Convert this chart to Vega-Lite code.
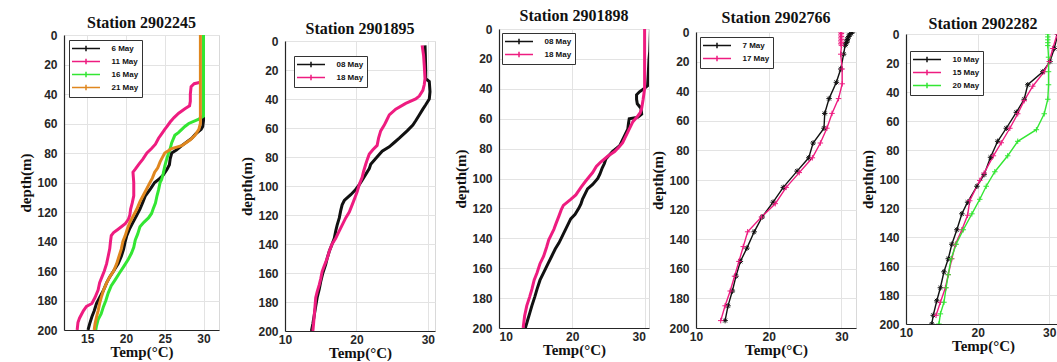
{
"$schema":"https://vega.github.io/schema/vega-lite/v6.json",
"background":"white",
"padding":{"left":18,"top":4,"right":0,"bottom":0},
"datasets":{
"p1":[
{"date":"6 May","depth":0,"temp":30.0},{"date":"6 May","depth":20,"temp":30.0},{"date":"6 May","depth":40,"temp":30.0},{"date":"6 May","depth":58,"temp":30.0},{"date":"6 May","depth":62,"temp":29.9},{"date":"6 May","depth":64,"temp":29.7},{"date":"6 May","depth":67,"temp":29.0},{"date":"6 May","depth":70,"temp":28.5},{"date":"6 May","depth":75,"temp":27.2},{"date":"6 May","depth":78,"temp":26.5},{"date":"6 May","depth":80,"temp":25.9},{"date":"6 May","depth":84,"temp":25.7},{"date":"6 May","depth":88,"temp":25.6},{"date":"6 May","depth":91,"temp":25.3},{"date":"6 May","depth":95,"temp":24.8},{"date":"6 May","depth":98,"temp":24.2},{"date":"6 May","depth":100,"temp":23.7},{"date":"6 May","depth":104,"temp":23.2},{"date":"6 May","depth":109,"temp":22.5},{"date":"6 May","depth":113,"temp":22.2},{"date":"6 May","depth":118,"temp":21.8},{"date":"6 May","depth":122,"temp":21.4},{"date":"6 May","depth":127,"temp":20.9},{"date":"6 May","depth":131,"temp":20.5},{"date":"6 May","depth":136,"temp":20.1},{"date":"6 May","depth":140,"temp":19.9},{"date":"6 May","depth":145,"temp":19.7},{"date":"6 May","depth":150,"temp":19.4},{"date":"6 May","depth":155,"temp":19.0},{"date":"6 May","depth":160,"temp":18.4},{"date":"6 May","depth":164,"temp":17.9},{"date":"6 May","depth":168,"temp":17.5},{"date":"6 May","depth":173,"temp":17.1},{"date":"6 May","depth":178,"temp":16.6},{"date":"6 May","depth":182,"temp":16.2},{"date":"6 May","depth":187,"temp":15.9},{"date":"6 May","depth":191,"temp":15.6},{"date":"6 May","depth":196,"temp":15.3},{"date":"6 May","depth":200,"temp":15.1},
{"date":"11 May","depth":32,"temp":29.6},{"date":"11 May","depth":33,"temp":28.8},{"date":"11 May","depth":35,"temp":28.4},{"date":"11 May","depth":40,"temp":28.3},{"date":"11 May","depth":45,"temp":28.3},{"date":"11 May","depth":48,"temp":28.2},{"date":"11 May","depth":50,"temp":27.6},{"date":"11 May","depth":53,"temp":26.8},{"date":"11 May","depth":56,"temp":26.2},{"date":"11 May","depth":59,"temp":25.7},{"date":"11 May","depth":62,"temp":25.3},{"date":"11 May","depth":64,"temp":25.0},{"date":"11 May","depth":67,"temp":24.6},{"date":"11 May","depth":70,"temp":24.2},{"date":"11 May","depth":74,"temp":23.8},{"date":"11 May","depth":77,"temp":23.3},{"date":"11 May","depth":80,"temp":22.7},{"date":"11 May","depth":84,"temp":22.2},{"date":"11 May","depth":88,"temp":21.6},{"date":"11 May","depth":91,"temp":21.2},{"date":"11 May","depth":93,"temp":20.9},{"date":"11 May","depth":100,"temp":21.0},{"date":"11 May","depth":109,"temp":21.0},{"date":"11 May","depth":114,"temp":20.8},{"date":"11 May","depth":118,"temp":20.6},{"date":"11 May","depth":122,"temp":20.5},{"date":"11 May","depth":125,"temp":20.3},{"date":"11 May","depth":128,"temp":19.9},{"date":"11 May","depth":130,"temp":19.4},{"date":"11 May","depth":132,"temp":18.9},{"date":"11 May","depth":134,"temp":18.4},{"date":"11 May","depth":136,"temp":18.1},{"date":"11 May","depth":140,"temp":18.0},{"date":"11 May","depth":145,"temp":17.9},{"date":"11 May","depth":150,"temp":17.7},{"date":"11 May","depth":155,"temp":17.5},{"date":"11 May","depth":160,"temp":17.2},{"date":"11 May","depth":164,"temp":16.9},{"date":"11 May","depth":168,"temp":16.6},{"date":"11 May","depth":173,"temp":16.4},{"date":"11 May","depth":178,"temp":16.0},{"date":"11 May","depth":182,"temp":15.6},{"date":"11 May","depth":184,"temp":14.9},{"date":"11 May","depth":187,"temp":14.5},{"date":"11 May","depth":189,"temp":14.3},{"date":"11 May","depth":192,"temp":14.0},{"date":"11 May","depth":195,"temp":13.8},{"date":"11 May","depth":200,"temp":13.7},
{"date":"16 May","depth":0,"temp":30.0},{"date":"16 May","depth":55,"temp":30.0},{"date":"16 May","depth":57,"temp":29.4},{"date":"16 May","depth":60,"temp":28.1},{"date":"16 May","depth":62,"temp":27.6},{"date":"16 May","depth":64,"temp":27.2},{"date":"16 May","depth":66,"temp":26.8},{"date":"16 May","depth":68,"temp":26.3},{"date":"16 May","depth":73,"temp":25.9},{"date":"16 May","depth":77,"temp":25.7},{"date":"16 May","depth":80,"temp":25.5},{"date":"16 May","depth":85,"temp":25.2},{"date":"16 May","depth":89,"temp":25.0},{"date":"16 May","depth":94,"temp":24.8},{"date":"16 May","depth":98,"temp":24.6},{"date":"16 May","depth":100,"temp":24.4},{"date":"16 May","depth":105,"temp":24.2},{"date":"16 May","depth":109,"temp":24.0},{"date":"16 May","depth":114,"temp":23.8},{"date":"16 May","depth":118,"temp":23.5},{"date":"16 May","depth":121,"temp":23.3},{"date":"16 May","depth":124,"temp":22.9},{"date":"16 May","depth":127,"temp":22.3},{"date":"16 May","depth":130,"temp":21.8},{"date":"16 May","depth":135,"temp":21.5},{"date":"16 May","depth":139,"temp":21.2},{"date":"16 May","depth":144,"temp":21.0},{"date":"16 May","depth":148,"temp":20.7},{"date":"16 May","depth":152,"temp":20.3},{"date":"16 May","depth":157,"temp":19.7},{"date":"16 May","depth":161,"temp":19.2},{"date":"16 May","depth":166,"temp":18.6},{"date":"16 May","depth":170,"temp":18.1},{"date":"16 May","depth":175,"temp":17.7},{"date":"16 May","depth":180,"temp":17.4},{"date":"16 May","depth":184,"temp":17.1},{"date":"16 May","depth":189,"temp":16.8},{"date":"16 May","depth":193,"temp":16.4},{"date":"16 May","depth":197,"temp":16.2},{"date":"16 May","depth":200,"temp":16.1},
{"date":"21 May","depth":0,"temp":29.6},{"date":"21 May","depth":60,"temp":29.6},{"date":"21 May","depth":64,"temp":29.4},{"date":"21 May","depth":68,"temp":28.9},{"date":"21 May","depth":71,"temp":28.3},{"date":"21 May","depth":75,"temp":27.2},{"date":"21 May","depth":77,"temp":25.9},{"date":"21 May","depth":80,"temp":25.0},{"date":"21 May","depth":83,"temp":24.7},{"date":"21 May","depth":86,"temp":24.4},{"date":"21 May","depth":90,"temp":24.1},{"date":"21 May","depth":93,"temp":23.7},{"date":"21 May","depth":97,"temp":23.4},{"date":"21 May","depth":100,"temp":23.1},{"date":"21 May","depth":104,"temp":22.7},{"date":"21 May","depth":109,"temp":22.2},{"date":"21 May","depth":113,"temp":21.8},{"date":"21 May","depth":118,"temp":21.4},{"date":"21 May","depth":122,"temp":21.0},{"date":"21 May","depth":127,"temp":20.5},{"date":"21 May","depth":131,"temp":20.2},{"date":"21 May","depth":136,"temp":19.9},{"date":"21 May","depth":140,"temp":19.6},{"date":"21 May","depth":145,"temp":19.4},{"date":"21 May","depth":150,"temp":19.1},{"date":"21 May","depth":155,"temp":18.8},{"date":"21 May","depth":160,"temp":18.4},{"date":"21 May","depth":164,"temp":17.9},{"date":"21 May","depth":168,"temp":17.5},{"date":"21 May","depth":173,"temp":17.1},{"date":"21 May","depth":178,"temp":16.8},{"date":"21 May","depth":182,"temp":16.6},{"date":"21 May","depth":187,"temp":16.4},{"date":"21 May","depth":191,"temp":16.2},{"date":"21 May","depth":196,"temp":16.0},{"date":"21 May","depth":200,"temp":15.9}
],
"p2":[
{"date":"08 May","depth":3,"temp":29.6},{"date":"08 May","depth":10,"temp":29.65},{"date":"08 May","depth":20,"temp":29.7},{"date":"08 May","depth":26,"temp":29.7},{"date":"08 May","depth":28,"temp":30.2},{"date":"08 May","depth":35,"temp":30.3},{"date":"08 May","depth":40,"temp":30.2},{"date":"08 May","depth":44,"temp":29.7},{"date":"08 May","depth":47,"temp":29.3},{"date":"08 May","depth":51,"temp":28.8},{"date":"08 May","depth":55,"temp":28.3},{"date":"08 May","depth":58,"temp":27.9},{"date":"08 May","depth":62,"temp":27.1},{"date":"08 May","depth":67,"temp":26.0},{"date":"08 May","depth":70,"temp":25.3},{"date":"08 May","depth":73,"temp":24.6},{"date":"08 May","depth":76,"temp":23.6},{"date":"08 May","depth":81,"temp":22.7},{"date":"08 May","depth":85,"temp":22.0},{"date":"08 May","depth":88,"temp":21.8},{"date":"08 May","depth":92,"temp":21.3},{"date":"08 May","depth":96,"temp":20.8},{"date":"08 May","depth":99,"temp":20.4},{"date":"08 May","depth":103,"temp":19.8},{"date":"08 May","depth":106,"temp":19.2},{"date":"08 May","depth":110,"temp":18.3},{"date":"08 May","depth":113,"temp":18.0},{"date":"08 May","depth":117,"temp":17.8},{"date":"08 May","depth":122,"temp":17.6},{"date":"08 May","depth":127,"temp":17.3},{"date":"08 May","depth":131,"temp":17.1},{"date":"08 May","depth":136,"temp":16.9},{"date":"08 May","depth":140,"temp":16.6},{"date":"08 May","depth":145,"temp":16.2},{"date":"08 May","depth":150,"temp":15.9},{"date":"08 May","depth":154,"temp":15.7},{"date":"08 May","depth":160,"temp":15.3},{"date":"08 May","depth":166,"temp":15.0},{"date":"08 May","depth":171,"temp":14.8},{"date":"08 May","depth":177,"temp":14.5},{"date":"08 May","depth":183,"temp":14.3},{"date":"08 May","depth":189,"temp":14.1},{"date":"08 May","depth":195,"temp":13.9},{"date":"08 May","depth":200,"temp":13.7},
{"date":"18 May","depth":3,"temp":29.2},{"date":"18 May","depth":10,"temp":29.4},{"date":"18 May","depth":17,"temp":29.5},{"date":"18 May","depth":26,"temp":29.6},{"date":"18 May","depth":30,"temp":29.5},{"date":"18 May","depth":34,"temp":29.3},{"date":"18 May","depth":38,"temp":28.8},{"date":"18 May","depth":40,"temp":28.3},{"date":"18 May","depth":43,"temp":26.9},{"date":"18 May","depth":47,"temp":25.5},{"date":"18 May","depth":51,"temp":24.6},{"date":"18 May","depth":55,"temp":24.2},{"date":"18 May","depth":58,"temp":23.9},{"date":"18 May","depth":62,"temp":23.4},{"date":"18 May","depth":67,"temp":23.1},{"date":"18 May","depth":72,"temp":22.9},{"date":"18 May","depth":75,"temp":22.3},{"date":"18 May","depth":78,"temp":21.8},{"date":"18 May","depth":82,"temp":21.5},{"date":"18 May","depth":85,"temp":21.3},{"date":"18 May","depth":90,"temp":21.0},{"date":"18 May","depth":94,"temp":20.8},{"date":"18 May","depth":99,"temp":20.4},{"date":"18 May","depth":104,"temp":20.1},{"date":"18 May","depth":108,"temp":19.8},{"date":"18 May","depth":113,"temp":19.4},{"date":"18 May","depth":118,"temp":19.0},{"date":"18 May","depth":122,"temp":18.5},{"date":"18 May","depth":127,"temp":18.0},{"date":"18 May","depth":131,"temp":17.6},{"date":"18 May","depth":136,"temp":17.1},{"date":"18 May","depth":140,"temp":16.6},{"date":"18 May","depth":145,"temp":16.2},{"date":"18 May","depth":150,"temp":15.9},{"date":"18 May","depth":155,"temp":15.5},{"date":"18 May","depth":159,"temp":15.2},{"date":"18 May","depth":164,"temp":15.0},{"date":"18 May","depth":168,"temp":14.8},{"date":"18 May","depth":173,"temp":14.5},{"date":"18 May","depth":177,"temp":14.3},{"date":"18 May","depth":183,"temp":14.2},{"date":"18 May","depth":189,"temp":14.1},{"date":"18 May","depth":195,"temp":14.0},{"date":"18 May","depth":200,"temp":13.9}
],
"p3":[
{"date":"08 May","depth":0,"temp":30.7},{"date":"08 May","depth":15,"temp":30.6},{"date":"08 May","depth":20,"temp":30.5},{"date":"08 May","depth":30,"temp":30.4},{"date":"08 May","depth":38,"temp":30.3},{"date":"08 May","depth":40,"temp":29.8},{"date":"08 May","depth":42,"temp":29.2},{"date":"08 May","depth":44,"temp":28.8},{"date":"08 May","depth":47,"temp":28.8},{"date":"08 May","depth":50,"temp":28.9},{"date":"08 May","depth":53,"temp":29.4},{"date":"08 May","depth":57,"temp":29.5},{"date":"08 May","depth":59,"temp":29.0},{"date":"08 May","depth":60,"temp":27.8},{"date":"08 May","depth":63,"temp":27.7},{"date":"08 May","depth":67,"temp":27.6},{"date":"08 May","depth":72,"temp":27.1},{"date":"08 May","depth":75,"temp":26.8},{"date":"08 May","depth":78,"temp":26.5},{"date":"08 May","depth":82,"temp":25.5},{"date":"08 May","depth":87,"temp":24.6},{"date":"08 May","depth":90,"temp":24.4},{"date":"08 May","depth":93,"temp":24.1},{"date":"08 May","depth":97,"temp":23.8},{"date":"08 May","depth":100,"temp":23.5},{"date":"08 May","depth":104,"temp":22.8},{"date":"08 May","depth":107,"temp":22.1},{"date":"08 May","depth":110,"temp":21.8},{"date":"08 May","depth":114,"temp":21.4},{"date":"08 May","depth":117,"temp":21.2},{"date":"08 May","depth":120,"temp":20.9},{"date":"08 May","depth":124,"temp":20.4},{"date":"08 May","depth":127,"temp":19.8},{"date":"08 May","depth":130,"temp":19.5},{"date":"08 May","depth":134,"temp":19.1},{"date":"08 May","depth":138,"temp":18.7},{"date":"08 May","depth":143,"temp":18.2},{"date":"08 May","depth":147,"temp":17.7},{"date":"08 May","depth":152,"temp":17.2},{"date":"08 May","depth":157,"temp":16.7},{"date":"08 May","depth":163,"temp":16.1},{"date":"08 May","depth":168,"temp":15.6},{"date":"08 May","depth":174,"temp":15.2},{"date":"08 May","depth":179,"temp":14.9},{"date":"08 May","depth":185,"temp":14.5},{"date":"08 May","depth":190,"temp":14.2},{"date":"08 May","depth":195,"temp":13.9},{"date":"08 May","depth":200,"temp":13.6},
{"date":"18 May","depth":0,"temp":29.9},{"date":"18 May","depth":40,"temp":29.9},{"date":"18 May","depth":47,"temp":29.7},{"date":"18 May","depth":53,"temp":29.5},{"date":"18 May","depth":56,"temp":29.3},{"date":"18 May","depth":58,"temp":29.0},{"date":"18 May","depth":62,"temp":28.3},{"date":"18 May","depth":66,"temp":27.9},{"date":"18 May","depth":69,"temp":27.6},{"date":"18 May","depth":73,"temp":27.2},{"date":"18 May","depth":76,"temp":26.9},{"date":"18 May","depth":79,"temp":26.4},{"date":"18 May","depth":82,"temp":25.8},{"date":"18 May","depth":85,"temp":24.9},{"date":"18 May","depth":89,"temp":23.9},{"date":"18 May","depth":92,"temp":23.3},{"date":"18 May","depth":96,"temp":22.8},{"date":"18 May","depth":99,"temp":22.3},{"date":"18 May","depth":102,"temp":21.8},{"date":"18 May","depth":106,"temp":21.2},{"date":"18 May","depth":111,"temp":20.5},{"date":"18 May","depth":114,"temp":19.8},{"date":"18 May","depth":118,"temp":18.8},{"date":"18 May","depth":121,"temp":18.5},{"date":"18 May","depth":125,"temp":18.2},{"date":"18 May","depth":130,"temp":17.8},{"date":"18 May","depth":134,"temp":17.5},{"date":"18 May","depth":138,"temp":17.1},{"date":"18 May","depth":141,"temp":16.8},{"date":"18 May","depth":146,"temp":16.5},{"date":"18 May","depth":152,"temp":16.1},{"date":"18 May","depth":157,"temp":15.6},{"date":"18 May","depth":163,"temp":15.2},{"date":"18 May","depth":168,"temp":14.8},{"date":"18 May","depth":174,"temp":14.5},{"date":"18 May","depth":179,"temp":14.2},{"date":"18 May","depth":185,"temp":13.8},{"date":"18 May","depth":192,"temp":13.5},{"date":"18 May","depth":200,"temp":13.3}
],
"p4":[
{"date":"7 May","depth":0,"temp":31.5},{"date":"7 May","depth":1,"temp":31.3},{"date":"7 May","depth":2,"temp":31.1},{"date":"7 May","depth":3,"temp":31.0},{"date":"7 May","depth":4,"temp":30.9},{"date":"7 May","depth":5,"temp":30.8},{"date":"7 May","depth":6,"temp":30.8},{"date":"7 May","depth":7,"temp":30.7},{"date":"7 May","depth":8,"temp":30.6},{"date":"7 May","depth":9,"temp":30.5},{"date":"7 May","depth":15,"temp":30.3},{"date":"7 May","depth":25,"temp":29.9},{"date":"7 May","depth":34,"temp":29.3},{"date":"7 May","depth":45,"temp":28.3},{"date":"7 May","depth":55,"temp":27.7},{"date":"7 May","depth":65,"temp":27.6},{"date":"7 May","depth":75,"temp":26.1},{"date":"7 May","depth":85,"temp":25.5},{"date":"7 May","depth":94,"temp":23.9},{"date":"7 May","depth":105,"temp":22.0},{"date":"7 May","depth":115,"temp":20.6},{"date":"7 May","depth":125,"temp":19.1},{"date":"7 May","depth":135,"temp":18.0},{"date":"7 May","depth":146,"temp":17.0},{"date":"7 May","depth":155,"temp":16.1},{"date":"7 May","depth":165,"temp":15.5},{"date":"7 May","depth":175,"temp":15.0},{"date":"7 May","depth":185,"temp":14.4},{"date":"7 May","depth":195,"temp":14.0},
{"date":"17 May","depth":0,"temp":29.9},{"date":"17 May","depth":1,"temp":30.0},{"date":"17 May","depth":2,"temp":29.9},{"date":"17 May","depth":3,"temp":30.0},{"date":"17 May","depth":4,"temp":29.9},{"date":"17 May","depth":5,"temp":30.0},{"date":"17 May","depth":6,"temp":29.9},{"date":"17 May","depth":7,"temp":30.0},{"date":"17 May","depth":8,"temp":29.9},{"date":"17 May","depth":9,"temp":30.0},{"date":"17 May","depth":15,"temp":29.9},{"date":"17 May","depth":25,"temp":30.1},{"date":"17 May","depth":35,"temp":30.1},{"date":"17 May","depth":45,"temp":29.6},{"date":"17 May","depth":55,"temp":28.7},{"date":"17 May","depth":65,"temp":28.0},{"date":"17 May","depth":75,"temp":27.1},{"date":"17 May","depth":85,"temp":26.0},{"date":"17 May","depth":95,"temp":24.2},{"date":"17 May","depth":105,"temp":22.4},{"date":"17 May","depth":116,"temp":20.9},{"date":"17 May","depth":125,"temp":19.0},{"date":"17 May","depth":135,"temp":17.1},{"date":"17 May","depth":145,"temp":16.5},{"date":"17 May","depth":155,"temp":15.9},{"date":"17 May","depth":165,"temp":15.3},{"date":"17 May","depth":175,"temp":14.7},{"date":"17 May","depth":185,"temp":14.0},{"date":"17 May","depth":195,"temp":13.4}
],
"p5":[
{"date":"10 May","depth":0,"temp":31.2},{"date":"10 May","depth":10,"temp":30.7},{"date":"10 May","depth":19,"temp":30.1},{"date":"10 May","depth":26,"temp":29.1},{"date":"10 May","depth":35,"temp":27.0},{"date":"10 May","depth":45,"temp":26.5},{"date":"10 May","depth":54,"temp":25.4},{"date":"10 May","depth":65,"temp":24.0},{"date":"10 May","depth":74,"temp":22.8},{"date":"10 May","depth":85,"temp":21.8},{"date":"10 May","depth":97,"temp":20.9},{"date":"10 May","depth":105,"temp":19.9},{"date":"10 May","depth":116,"temp":18.6},{"date":"10 May","depth":124,"temp":17.8},{"date":"10 May","depth":135,"temp":17.1},{"date":"10 May","depth":145,"temp":16.4},{"date":"10 May","depth":155,"temp":15.9},{"date":"10 May","depth":164,"temp":15.3},{"date":"10 May","depth":175,"temp":14.8},{"date":"10 May","depth":184,"temp":14.3},{"date":"10 May","depth":194,"temp":13.8},{"date":"10 May","depth":200,"temp":13.6},
{"date":"15 May","depth":0,"temp":31.1},{"date":"15 May","depth":10,"temp":30.5},{"date":"15 May","depth":19,"temp":30.0},{"date":"15 May","depth":26,"temp":29.3},{"date":"15 May","depth":36,"temp":27.7},{"date":"15 May","depth":46,"temp":26.5},{"date":"15 May","depth":55,"temp":25.6},{"date":"15 May","depth":65,"temp":24.5},{"date":"15 May","depth":75,"temp":23.3},{"date":"15 May","depth":84,"temp":22.2},{"date":"15 May","depth":96,"temp":20.9},{"date":"15 May","depth":101,"temp":20.3},{"date":"15 May","depth":115,"temp":18.9},{"date":"15 May","depth":125,"temp":18.6},{"date":"15 May","depth":135,"temp":17.8},{"date":"15 May","depth":145,"temp":16.9},{"date":"15 May","depth":155,"temp":16.4},{"date":"15 May","depth":166,"temp":15.9},{"date":"15 May","depth":175,"temp":15.5},{"date":"15 May","depth":185,"temp":14.8},{"date":"15 May","depth":194,"temp":14.2},
{"date":"20 May","depth":0,"temp":29.8},{"date":"20 May","depth":2,"temp":29.8},{"date":"20 May","depth":4,"temp":29.8},{"date":"20 May","depth":6,"temp":29.8},{"date":"20 May","depth":8,"temp":29.8},{"date":"20 May","depth":16,"temp":29.9},{"date":"20 May","depth":26,"temp":29.9},{"date":"20 May","depth":35,"temp":29.9},{"date":"20 May","depth":45,"temp":29.8},{"date":"20 May","depth":55,"temp":29.3},{"date":"20 May","depth":66,"temp":28.2},{"date":"20 May","depth":74,"temp":25.6},{"date":"20 May","depth":84,"temp":24.2},{"date":"20 May","depth":95,"temp":22.4},{"date":"20 May","depth":105,"temp":21.2},{"date":"20 May","depth":114,"temp":20.3},{"date":"20 May","depth":124,"temp":19.2},{"date":"20 May","depth":135,"temp":18.0},{"date":"20 May","depth":145,"temp":17.0},{"date":"20 May","depth":155,"temp":16.3},{"date":"20 May","depth":166,"temp":15.9},{"date":"20 May","depth":175,"temp":15.6},{"date":"20 May","depth":185,"temp":15.3},{"date":"20 May","depth":193,"temp":14.8},{"date":"20 May","depth":200,"temp":14.6}
]
},
"spacing":19,
"resolve":{"scale":{"color":"independent"},"legend":{"color":"independent"}},
"hconcat":[
{"spacing":0,"resolve":{"scale":{"color":"independent"},"legend":{"color":"independent"}},"vconcat":[
{"width":155,"height":10,"data":{"values":[]},"mark":"point","encoding":{},"view":{"stroke":null}},
{
"width":155,"height":295,
"title":{"text":"Station 2902245","offset":-2},
"data":{"name":"p1"},
"encoding":{
"x":{"field":"temp","type":"quantitative","scale":{"domain":[12,32],"nice":false,"zero":false},"axis":{"values":[15,20,25,30],"title":"Temp(°C)"}},
"y":{"field":"depth","type":"quantitative","scale":{"domain":[0,200],"reverse":true,"nice":false},"axis":{"values":[0,20,40,60,80,100,120,140,160,180,200],"title":"depth(m)"}},
"color":{"field":"date","type":"nominal","scale":{"domain":["6 May","11 May","16 May","21 May"],"range":["#111111","#ee1c80","#33e633","#e0871f"]},"legend":{"orient":"none","legendX":5,"legendY":5,"title":null}}
},
"layer":[{"mark":{"type":"line","strokeWidth":3,"clip":true},"encoding":{"order":{"field":"depth","type":"quantitative"}}}]
}]},
{
"spacing":17,
"resolve":{"scale":{"color":"independent"},"legend":{"color":"independent"}},
"hconcat":[
{"spacing":0,"resolve":{"scale":{"color":"independent"},"legend":{"color":"independent"}},"vconcat":[
{"width":150,"height":16,"data":{"values":[]},"mark":"point","encoding":{},"view":{"stroke":null}},
{
"width":150,"height":290,
"title":{"text":"Station 2901895","offset":-2},
"data":{"name":"p2"},
"encoding":{
"x":{"field":"temp","type":"quantitative","scale":{"domain":[10,31],"nice":false,"zero":false},"axis":{"values":[10,20,30],"title":"Temp(°C)"}},
"y":{"field":"depth","type":"quantitative","scale":{"domain":[0,200],"reverse":true,"nice":false},"axis":{"values":[0,20,40,60,80,100,120,140,160,180,200],"title":"depth(m)"}},
"color":{"field":"date","type":"nominal","scale":{"domain":["08 May","18 May"],"range":["#111111","#ee1c80"]},"legend":{"orient":"none","legendX":9,"legendY":15,"title":null}}
},
"layer":[{"mark":{"type":"line","strokeWidth":3,"clip":true},"encoding":{"order":{"field":"depth","type":"quantitative"}}}]
}]},
{
"spacing":0,
"resolve":{"scale":{"color":"independent"},"legend":{"color":"independent"}},
"hconcat":[
{"spacing":0,"resolve":{"scale":{"color":"independent"},"legend":{"color":"independent"}},"vconcat":[
{"width":150,"height":3,"data":{"values":[]},"mark":"point","encoding":{},"view":{"stroke":null}},
{
"width":150,"height":299,
"title":{"text":"Station 2901898","offset":-1},
"data":{"name":"p3"},
"encoding":{
"x":{"field":"temp","type":"quantitative","scale":{"domain":[10,30.5],"nice":false,"zero":false},"axis":{"values":[10,20,30],"title":"Temp(°C)","labelFlush":5}},
"y":{"field":"depth","type":"quantitative","scale":{"domain":[0,200],"reverse":true,"nice":false},"axis":{"values":[0,20,40,60,80,100,120,140,160,180,200],"title":"depth(m)"}},
"color":{"field":"date","type":"nominal","scale":{"domain":["08 May","18 May"],"range":["#111111","#ee1c80"]},"legend":{"orient":"none","legendX":3,"legendY":4,"title":null}}
},
"layer":[{"mark":{"type":"line","strokeWidth":3,"clip":true},"encoding":{"order":{"field":"depth","type":"quantitative"}}}]
}]},
{
"spacing":3,
"resolve":{"scale":{"color":"independent"},"legend":{"color":"independent"}},
"hconcat":[
{"spacing":0,"resolve":{"scale":{"color":"independent"},"legend":{"color":"independent"}},"vconcat":[
{"width":160,"height":5,"data":{"values":[]},"mark":"point","encoding":{},"view":{"stroke":null}},
{
"width":160,"height":296,
"title":{"text":"Station 2902766","offset":0},
"data":{"name":"p4"},
"encoding":{
"x":{"field":"temp","type":"quantitative","scale":{"domain":[10,32],"nice":false,"zero":false},"axis":{"values":[10,20,30],"title":"Temp(°C)"}},
"y":{"field":"depth","type":"quantitative","scale":{"domain":[0,200],"reverse":true,"nice":false},"axis":{"values":[0,20,40,60,80,100,120,140,160,180,200],"title":"depth(m)"}},
"color":{"field":"date","type":"nominal","scale":{"domain":["7 May","17 May"],"range":["#111111","#ee1c80"]},"legend":{"orient":"none","legendX":4,"legendY":5,"title":null}}
},
"layer":[
{"mark":{"type":"line","strokeWidth":1.4,"clip":true},"encoding":{"order":{"field":"depth","type":"quantitative"}}},
{"mark":{"type":"point","filled":false,"size":30,"strokeWidth":1,"opacity":1,"clip":true},"encoding":{"shape":{"condition":{"test":"datum.date == '7 May'","value":"M-1,0H1M0,-1V1M-0.7,-0.7L0.7,0.7M-0.7,0.7L0.7,-0.7"},"value":"M-1,0H1M0,-1V1"}}}
]
}]},
{"spacing":0,"resolve":{"scale":{"color":"independent"},"legend":{"color":"independent"}},"vconcat":[
{"width":154,"height":11,"data":{"values":[]},"mark":"point","encoding":{},"view":{"stroke":null}},
{
"width":154,"height":290,
"title":{"text":"Station 2902282","offset":-4},
"data":{"name":"p5"},
"encoding":{
"x":{"field":"temp","type":"quantitative","scale":{"domain":[10,31.5],"nice":false,"zero":false},"axis":{"values":[10,20,30],"title":"Temp(°C)"}},
"y":{"field":"depth","type":"quantitative","scale":{"domain":[0,200],"reverse":true,"nice":false},"axis":{"values":[0,20,40,60,80,100,120,140,160,180,200],"title":"depth(m)"}},
"color":{"field":"date","type":"nominal","scale":{"domain":["10 May","15 May","20 May"],"range":["#111111","#ee1c80","#33e633"]},"legend":{"orient":"none","legendX":4,"legendY":17,"title":null}}
},
"layer":[
{"mark":{"type":"line","strokeWidth":1.4,"clip":true},"encoding":{"order":{"field":"depth","type":"quantitative"}}},
{"mark":{"type":"point","filled":false,"size":30,"strokeWidth":1,"opacity":1,"clip":true},"encoding":{"shape":{"condition":{"test":"datum.date == '10 May'","value":"M-1,0H1M0,-1V1M-0.7,-0.7L0.7,0.7M-0.7,0.7L0.7,-0.7"},"value":"M-1,0H1M0,-1V1"}}}
]
}]}
]
}
]
}
]
}
],
"config":{
"font":"Liberation Sans",
"view":{"stroke":"#d9d9d9"},
"axis":{"labelFont":"Liberation Sans","labelFontSize":12,"labelFontWeight":"bold","labelColor":"#262626","titleFont":"Liberation Serif","titleFontSize":15,"titleFontWeight":"bold","titleColor":"#111111","domainColor":"#262626","domainWidth":1.2,"tickSize":0,"gridColor":"#e3e3e3","labelFlush":false,"labelOverlap":false},
"axisY":{"labelPadding":7,"titlePadding":3},
"axisX":{"labelPadding":3,"titlePadding":0},
"title":{"font":"Liberation Serif","fontSize":16,"fontWeight":"bold","color":"#111111","anchor":"middle"},
"legend":{"strokeColor":"#333333","fillColor":"white","padding":3,"rowPadding":0,"labelFont":"Liberation Sans","labelFontSize":8,"labelFontWeight":"bold","labelColor":"#111111","symbolOffset":8.5,"labelOffset":20,"symbolType":"M-3,0H3M0,-0.6V0.6","symbolSize":87,"symbolStrokeWidth":1.5,"cornerRadius":0}
}
}
